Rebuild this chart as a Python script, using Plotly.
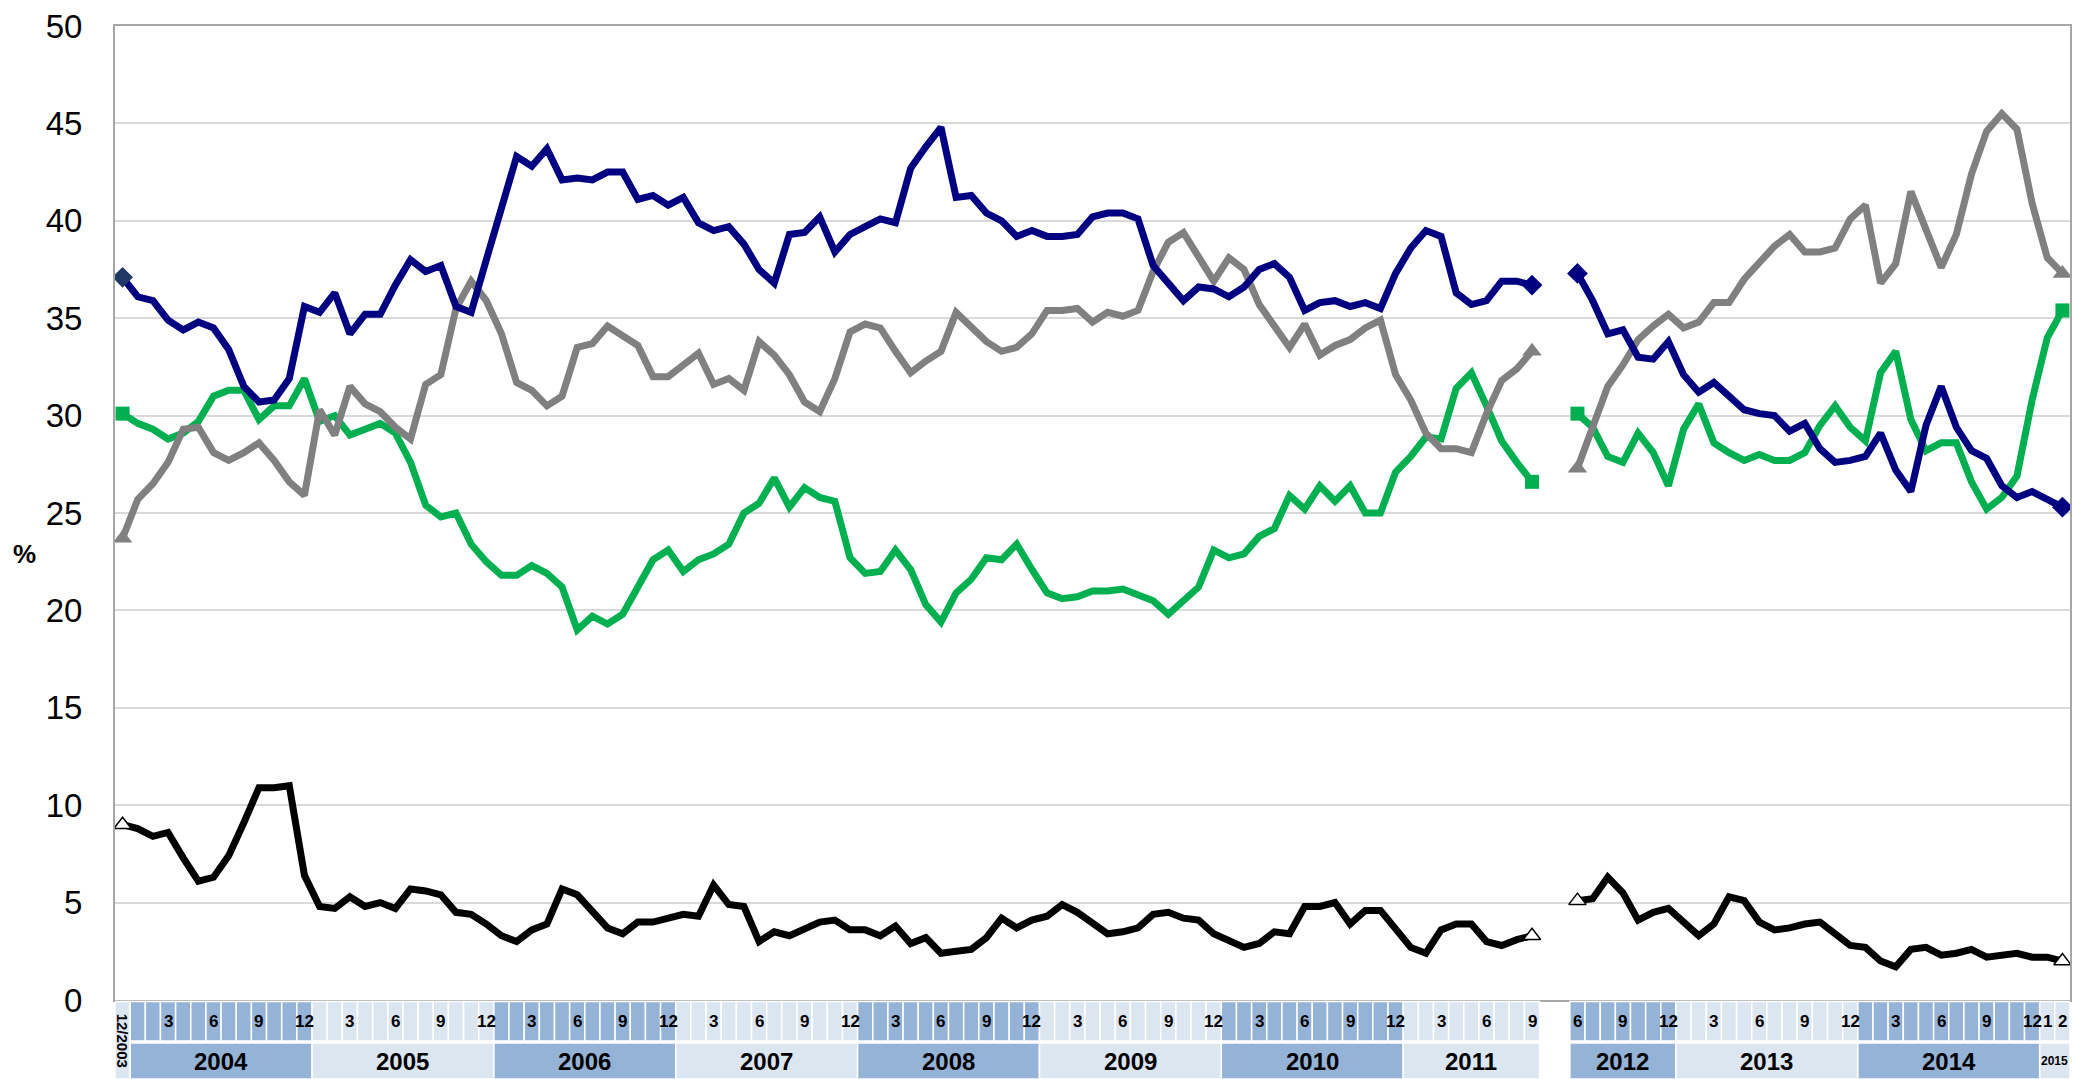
import plotly.graph_objects as go
import pandas as pd

# ---------------- data ----------------
months_seg1 = pd.period_range("2003-12", "2011-09", freq="M")   # 94 months
months_seg2 = pd.period_range("2012-06", "2015-02", freq="M")   # 33 months
GAP_CELLS = 2

navy_1 = [37.1, 36.1, 35.9, 34.9, 34.4, 34.8, 34.5, 33.4, 31.5, 30.7, 30.8, 31.9,
          35.6, 35.3, 36.3, 34.2, 35.2, 35.2, 36.7, 38.0, 37.4, 37.7, 35.6, 35.3,
          38.0, 40.8, 43.3, 42.8, 43.7, 42.1, 42.2, 42.1, 42.5, 42.5, 41.1, 41.3,
          40.8, 41.2, 39.9, 39.5, 39.7, 38.8, 37.5, 36.8, 39.3, 39.4, 40.2, 38.4,
          39.3, 39.7, 40.1, 39.9, 42.7, 43.8, 44.8, 41.2, 41.3, 40.4, 40.0, 39.2,
          39.5, 39.2, 39.2, 39.3, 40.2, 40.4, 40.4, 40.1, 37.7, 36.8, 35.9, 36.6,
          36.5, 36.1, 36.6, 37.5, 37.8, 37.1, 35.4, 35.8, 35.9, 35.6, 35.8, 35.5,
          37.3, 38.6, 39.5, 39.2, 36.3, 35.7, 35.9, 36.9, 36.9, 36.7]
navy_2 = [37.3, 35.9, 34.2, 34.4, 33.0, 32.9, 33.8, 32.1, 31.2, 31.7, 31.0, 30.3,
          30.1, 30.0, 29.2, 29.6, 28.3, 27.6, 27.7, 27.9, 29.1, 27.2, 26.1, 29.5,
          31.5, 29.4, 28.2, 27.8, 26.4, 25.8, 26.1, 25.7, 25.3]

green_1 = [30.1, 29.6, 29.3, 28.8, 29.1, 29.7, 31.0, 31.3, 31.3, 29.8, 30.5, 30.5,
           31.9, 29.7, 30.0, 29.0, 29.3, 29.6, 29.1, 27.6, 25.4, 24.8, 25.0, 23.4,
           22.5, 21.8, 21.8, 22.3, 21.9, 21.2, 19.0, 19.7, 19.3, 19.8, 21.2, 22.6,
           23.1, 22.0, 22.6, 22.9, 23.4, 25.0, 25.5, 26.8, 25.3, 26.3, 25.8, 25.6,
           22.7, 21.9, 22.0, 23.1, 22.1, 20.3, 19.4, 20.9, 21.6, 22.7, 22.6, 23.4,
           22.1, 20.9, 20.6, 20.7, 21.0, 21.0, 21.1, 20.8, 20.5, 19.8, 20.5, 21.2,
           23.1, 22.7, 22.9, 23.8, 24.2, 25.9, 25.2, 26.4, 25.6, 26.4, 25.0, 25.0,
           27.1, 27.9, 28.9, 28.8, 31.4, 32.2, 30.5, 28.7, 27.6, 26.6]
green_2 = [30.1, 29.4, 27.9, 27.6, 29.1, 28.1, 26.4, 29.3, 30.6, 28.6, 28.1, 27.7,
           28.0, 27.7, 27.7, 28.1, 29.5, 30.5, 29.4, 28.7, 32.2, 33.3, 29.8, 28.2,
           28.6, 28.6, 26.6, 25.2, 25.8, 26.9, 30.8, 34.0, 35.4]

gray_1 = [23.7, 25.7, 26.5, 27.6, 29.3, 29.4, 28.1, 27.7, 28.1, 28.6, 27.7, 26.6,
          25.9, 30.3, 29.0, 31.5, 30.6, 30.2, 29.4, 28.8, 31.6, 32.1, 35.5, 36.9,
          35.9, 34.2, 31.7, 31.3, 30.5, 31.0, 33.5, 33.7, 34.6, 34.1, 33.6, 32.0,
          32.0, 32.6, 33.2, 31.6, 31.9, 31.3, 33.8, 33.1, 32.1, 30.7, 30.2, 31.9,
          34.3, 34.7, 34.5, 33.3, 32.2, 32.8, 33.3, 35.3, 34.5, 33.8, 33.3, 33.5,
          34.2, 35.4, 35.4, 35.5, 34.8, 35.3, 35.1, 35.4, 37.4, 38.9, 39.4, 38.2,
          36.9, 38.1, 37.5, 35.7, 34.6, 33.5, 34.7, 33.1, 33.6, 33.9, 34.5, 34.9,
          32.1, 30.8, 29.1, 28.3, 28.3, 28.1, 30.1, 31.8, 32.4, 33.3]
gray_2 = [27.3, 29.5, 31.5, 32.6, 33.9, 34.6, 35.2, 34.5, 34.8, 35.8, 35.8, 37.0,
          37.8, 38.7, 39.3, 38.4, 38.4, 38.6, 40.1, 40.8, 36.8, 37.8, 41.5, 39.6,
          37.6, 39.3, 42.4, 44.6, 45.5, 44.7, 40.9, 38.1, 37.3]

black_1 = [9.0, 8.8, 8.4, 8.6, 7.3, 6.1, 6.3, 7.4, 9.1, 10.9, 10.9, 11.0,
           6.4, 4.8, 4.7, 5.3, 4.8, 5.0, 4.7, 5.7, 5.6, 5.4, 4.5, 4.4,
           3.9, 3.3, 3.0, 3.6, 3.9, 5.7, 5.4, 4.6, 3.7, 3.4, 4.0, 4.0,
           4.2, 4.4, 4.3, 5.9, 4.9, 4.8, 3.0, 3.5, 3.3, 3.7, 4.0, 4.1,
           3.6, 3.6, 3.3, 3.8, 2.9, 3.2, 2.4, 2.5, 2.6, 3.2, 4.2, 3.7,
           4.1, 4.3, 4.9, 4.5, 4.0, 3.4, 3.5, 3.7, 4.4, 4.5, 4.2, 4.1,
           3.4, 3.0, 2.7, 2.9, 3.5, 3.4, 4.8, 4.8, 5.0, 3.9, 4.6, 4.6,
           3.6, 2.7, 2.4, 3.6, 3.9, 3.9, 3.0, 2.8, 3.1, 3.3]
black_2 = [5.1, 5.2, 6.3, 5.5, 4.1, 4.5, 4.7, 4.0, 3.3, 3.9, 5.3, 5.1,
           4.0, 3.6, 3.7, 3.9, 4.0, 3.4, 2.8, 2.7, 2.0, 1.7, 2.6, 2.7,
           2.3, 2.4, 2.6, 2.2, 2.3, 2.4, 2.2, 2.2, 2.0]

y_ticks = [0, 5, 10, 15, 20, 25, 30, 35, 40, 45, 50]
y_title = "%"
first_label = "12/2003"

# ---------------- styles ----------------
NAVY, GREEN, GRAY, BLACK = "#000080", "#00B050", "#808080", "#000000"
DARK_CELL, LIGHT_CELL = "#95B3D7", "#DCE6F1"
NARROW = "Liberation Sans Narrow, Arial Narrow, Liberation Sans, Arial, sans-serif"
W, H = 2073, 1079
M_L, M_R, M_T, M_B = 115, 1, 26, 79
PLOT_H = H - M_T - M_B
LINE_W = 7

n1 = len(months_seg1)
x1 = list(range(n1))
x2 = list(range(n1 + GAP_CELLS, n1 + GAP_CELLS + len(months_seg2)))
x_all = x1 + [None] + x2

fig = go.Figure()

series = [
    (green_1, green_2, GREEN, dict(symbol="square", size=14, color=GREEN), None),
    (gray_1, gray_2, GRAY, dict(symbol="triangle-up", size=17, color=GRAY), None),
    (navy_1, navy_2, NAVY, dict(symbol="diamond", size=16, color=NAVY), "#1F3864"),
    (black_1, black_2, BLACK, dict(symbol="triangle-up", size=15, color="white",
                                   line=dict(color=BLACK, width=1.5)), None),
]
for s1, s2, col, mk, first_col in series:
    fig.add_trace(go.Scatter(x=x_all, y=s1 + [None] + s2, mode="lines",
                             line=dict(color=col, width=LINE_W), connectgaps=False,
                             hoverinfo="skip", showlegend=False))
    mk = dict(mk)
    if first_col:
        mk["color"] = [first_col, col, col, col]
    fig.add_trace(go.Scatter(x=[x1[0], x1[-1], x2[0], x2[-1]],
                             y=[s1[0], s1[-1], s2[0], s2[-1]],
                             mode="markers", marker=mk, hoverinfo="skip",
                             showlegend=False))

# ---------------- custom month / year axis ----------------
def py(pix):  # pixel below plot bottom -> paper y
    return -pix / PLOT_H

MROW = (py(1.5), py(41))
YROW = (py(43), py(79))

shapes, annots = [], []
cells = list(zip(x1, months_seg1)) + list(zip(x2, months_seg2))
for pos, per in cells:
    if pos == 0:
        shapes.append(dict(type="rect", xref="x", yref="paper", x0=pos - 0.5, x1=pos + 0.5,
                           y0=YROW[1], y1=MROW[0], fillcolor=LIGHT_CELL,
                           line=dict(color="white", width=1.5), layer="above"))
        annots.append(dict(x=pos, y=(YROW[1] + MROW[0]) / 2, xref="x", yref="paper",
                           text=first_label, textangle=90, showarrow=False,
                           xanchor="center", yanchor="middle",
                           font=dict(family=NARROW, size=15, color="black", weight="bold")))
        continue
    fill = DARK_CELL if (per.year - 2004) % 2 == 0 else LIGHT_CELL
    shapes.append(dict(type="rect", xref="x", yref="paper", x0=pos - 0.5, x1=pos + 0.5,
                       y0=MROW[1], y1=MROW[0], fillcolor=fill,
                       line=dict(color="white", width=1.5), layer="above"))
    if per.month % 3 == 0 or per.year == 2015:
        annots.append(dict(x=pos, y=(MROW[0] + MROW[1]) / 2, xref="x", yref="paper",
                           text=str(per.month), showarrow=False,
                           xanchor="center", yanchor="middle",
                           font=dict(family=NARROW, size=17, color="black", weight="bold")))

# year blocks
groups = {}
for pos, per in cells[1:]:
    key = (pos > n1, per.year)
    groups.setdefault(key, []).append(pos)
for (seg, year), poss in groups.items():
    fill = DARK_CELL if (year - 2004) % 2 == 0 else LIGHT_CELL
    shapes.append(dict(type="rect", xref="x", yref="paper", x0=min(poss) - 0.5,
                       x1=max(poss) + 0.5, y0=YROW[1], y1=YROW[0], fillcolor=fill,
                       line=dict(color="white", width=1.5), layer="above"))
    size = 24 if len(poss) > 4 else 12
    annots.append(dict(x=(min(poss) + max(poss)) / 2, y=(YROW[0] + YROW[1]) / 2,
                       xref="x", yref="paper", text=str(year), showarrow=False,
                       xanchor="center", yanchor="middle",
                       font=dict(family=NARROW, size=size, color="black", weight="bold")))

annots.append(dict(x=-91 / (W - M_L - M_R), y=22.9, xref="paper", yref="y", text=y_title,
                   showarrow=False, xanchor="center", yanchor="middle",
                   font=dict(family="Liberation Sans, Arial", size=26, color="black",
                             weight="bold")))

n_cells = n1 + GAP_CELLS + len(months_seg2)
fig.update_layout(
    width=W, height=H, autosize=False,
    margin=dict(l=M_L, r=M_R, t=M_T, b=M_B, pad=0),
    plot_bgcolor="white", paper_bgcolor="white",
    shapes=shapes, annotations=annots,
    xaxis=dict(range=[-0.5, n_cells - 0.5], showgrid=False, zeroline=False,
               showticklabels=False, ticks="", showline=True, mirror=True,
               linecolor="#A6A6A6", linewidth=2, fixedrange=True),
    yaxis=dict(range=[0, 50], tickvals=y_ticks, showgrid=True, gridcolor="#D9D9D9",
               gridwidth=1.5, zeroline=False, showline=True, mirror=True,
               linecolor="#A6A6A6", linewidth=2, ticks="", ticklabelstandoff=24,
               tickfont=dict(family="Liberation Sans, Arial", size=33, color="black"),
               fixedrange=True),
)

fig.write_html("out.html", post_script="document.body.style.margin='0';",
               config={"displayModeBar": False})
